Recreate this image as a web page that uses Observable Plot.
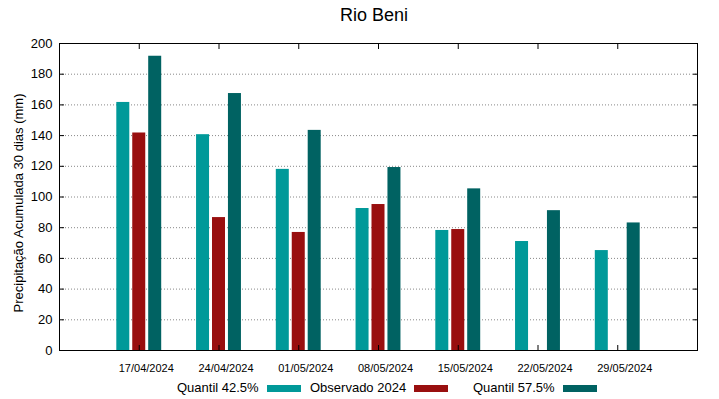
<!DOCTYPE html>
<html>
<head>
<meta charset="utf-8">
<script src="https://cdn.jsdelivr.net/npm/d3@7"></script>
<script src="https://cdn.jsdelivr.net/npm/@observablehq/plot@0.6"></script>
<style>
  body { margin: 0; background: #fff; font-family: "Liberation Sans", Arial, sans-serif; }
  #wrap { position: relative; width: 719px; height: 399px; overflow: hidden; }
  #title { position: absolute; left: 55px; width: 638px; top: 5px; text-align: center; font-size: 18px; color: #000; }
  #legend { position: absolute; left: 0; top: 380px; width: 719px; height: 19px; font-size: 13px; color: #000; }
  .lg { position: absolute; top: 0; white-space: nowrap; }
  .sw { display: inline-block; width: 34px; height: 7px; vertical-align: 0px; margin-left: 8px; }
  svg { position: absolute; left: 0; top: 0; }
</style>
</head>
<body>
<div id="wrap">
  <div id="chart"></div>
  <div id="title">Rio Beni</div>
  <div id="legend"></div>
</div>
<script>
const dates = ["17/04/2024", "24/04/2024", "01/05/2024", "08/05/2024", "15/05/2024", "22/05/2024", "29/05/2024"];
const q425 = [161.6, 140.6, 118.0, 92.5, 78.2, 71.0, 65.1];
const obs2024 = [141.7, 86.6, 76.9, 95.1, 78.8, null, null];
const q575 = [191.7, 167.4, 143.4, 119.2, 105.3, 91.1, 83.1];
const seriesNames = ["Quantil 42.5%", "Observado 2024", "Quantil 57.5%"];
const seriesColors = ["#009999", "#990f0f", "#006262"];
const yTicks = [0, 20, 40, 60, 80, 100, 120, 140, 160, 180, 200];
const yLabel = "Precipitação Acumulada 30 dias (mm)";

const seriesValues = [q425, obs2024, q575];
const barW = 0.163, step = 0.2;
const rows = [];
seriesValues.forEach((vals, k) => {
  vals.forEach((v, i) => {
    if (v == null) return;
    const c = i + (k - 1) * step;
    rows.push({series: seriesNames[k], value: v, x1: c - barW / 2, x2: c + barW / 2});
  });
});
const xIdx = dates.map((d, i) => i);

const chart = Plot.plot({
  width: 719,
  height: 399,
  marginLeft: 59,
  marginRight: 22,
  marginTop: 43,
  marginBottom: 49,
  style: {fontFamily: "Liberation Sans, Arial, sans-serif", fontSize: "13px", color: "#000", background: "#fff"},
  x: {domain: [-1, 7]},
  y: {domain: [0, 200]},
  color: {domain: seriesNames, range: seriesColors},
  marks: [
    Plot.gridY(yTicks.filter(t => t > 0 && t < 200), {stroke: "#888", strokeOpacity: 1, strokeDasharray: "1,2"}),
    Plot.rectY(rows, {x1: "x1", x2: "x2", y: "value", fill: "series"}),
    Plot.axisY(yTicks, {tickSize: 0, tickPadding: 7, fontSize: 13, label: null}),
    Plot.text([yLabel], {frameAnchor: "left", rotate: -90, dx: -41, dy: 6, lineAnchor: "middle", textAnchor: "middle", fontSize: 13, fill: "#000"}),
    Plot.axisY(yTicks, {text: null, tickSize: -5, label: null}),
    Plot.axisY(yTicks, {anchor: "right", text: null, tickSize: -5, label: null}),
    Plot.axisX(xIdx, {tickSize: 0, tickPadding: 14, dx: 7, fontSize: 11, tickFormat: i => dates[i], label: null}),
    Plot.axisX(xIdx, {text: null, tickSize: -5, label: null}),
    Plot.axisX(xIdx, {anchor: "top", text: null, tickSize: -5, label: null}),
    Plot.frame({stroke: "#000", strokeWidth: 1})
  ]
});
document.getElementById("chart").appendChild(chart);

const legendPos = [177, 310, 473];
const legend = document.getElementById("legend");
seriesNames.forEach((name, k) => {
  const el = document.createElement("div");
  el.className = "lg";
  el.style.left = legendPos[k] + "px";
  el.innerHTML = `<span>${name}</span><span class="sw" style="background:${seriesColors[k]}"></span>`;
  legend.appendChild(el);
});
</script>
</body>
</html>
